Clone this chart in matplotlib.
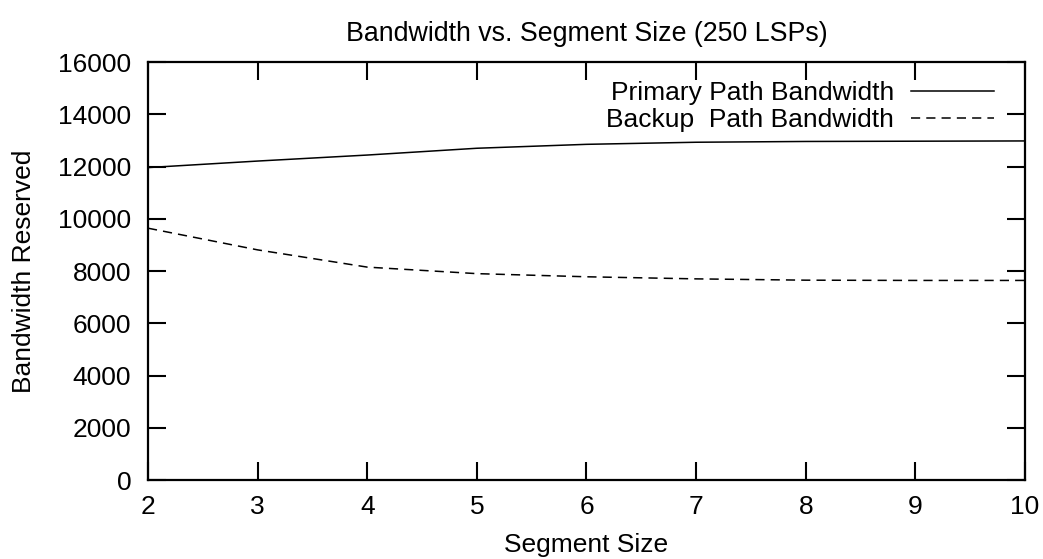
import matplotlib
matplotlib.use("Agg")
import matplotlib.pyplot as plt

plt.rcParams['font.family'] = ['Liberation Sans', 'DejaVu Sans']

# data
segment_size = [2, 3, 4, 5, 6, 7, 8, 9, 10]
primary_bw = [11960, 12210, 12440, 12700, 12850, 12930, 12960, 12970, 12980]
backup_bw = [9640, 8810, 8150, 7900, 7780, 7700, 7650, 7640, 7640]
x_ticks = [2, 3, 4, 5, 6, 7, 8, 9, 10]
y_ticks = list(range(0, 16001, 2000))

fig = plt.figure(figsize=(10.43, 5.59), dpi=100)
ax = fig.add_axes([0.1419, 0.1413, 0.8408, 0.7477])

ax.plot(segment_size, primary_bw, color='black', lw=1.1, label='Primary Path Bandwidth')
ax.plot(segment_size, backup_bw, color='black', lw=1.1, dashes=(6, 4),
        label='Backup  Path Bandwidth')

ax.set_xlim(2, 10)
ax.set_ylim(0, 16000)
ax.set_xticks(x_ticks)
ax.set_yticks(y_ticks)
ax.tick_params(direction='in', length=13, width=1.5, labelsize=19,
               top=True, right=True)
ax.tick_params(axis='x', pad=11)
ax.tick_params(axis='y', pad=12)
for s in ax.spines.values():
    s.set_linewidth(1.6)

ax.set_title('Bandwidth vs. Segment Size (250 LSPs)', fontsize=19.3, pad=15)
ax.set_xlabel('Segment Size', fontsize=19, labelpad=10)
ax.set_ylabel('Bandwidth Reserved', fontsize=19, labelpad=16)

ax.legend(loc='upper right', frameon=False, markerfirst=False, fontsize=19,
          handlelength=3.15, handletextpad=0.65, labelspacing=0.12,
          bbox_to_anchor=(0.965, 0.955), borderaxespad=0.0, borderpad=0.0)

fig.savefig('out.png', dpi=100)
